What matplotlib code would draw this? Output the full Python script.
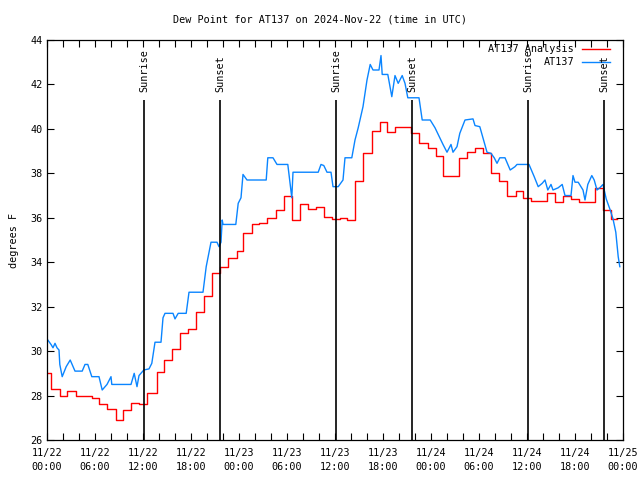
import numpy as np
import matplotlib
matplotlib.use("Agg")
import matplotlib.pyplot as plt

plt.rcParams['font.family'] = 'DejaVu Sans Mono'
plt.rcParams['font.size'] = 7.3

# hours since 2024-11-22 00:00 UTC
analysis_hours = [0.0, 0.5, 1.6, 2.5, 3.6, 5.6, 6.5, 7.5, 8.6, 9.5, 10.5, 11.5,
                  12.5, 13.75, 14.6, 15.6, 16.6, 17.6, 18.6, 19.6, 20.6, 21.6, 22.6, 23.75,
                  24.5, 25.6, 26.5, 27.5, 28.6, 29.6, 30.6, 31.6, 32.6, 33.6, 34.6, 35.6,
                  36.6, 37.5, 38.5, 39.5, 40.6, 41.6, 42.5, 43.5, 45.5, 46.5, 47.6, 48.6,
                  49.5, 51.5, 52.5, 53.5, 54.5, 55.5, 56.5, 57.5, 58.6, 59.5, 60.5, 62.5,
                  63.5, 64.5, 65.5, 66.5, 68.5, 69.5, 70.5, 71.25]
analysis_dewpt = [29.0, 28.3, 28.0, 28.2, 28.0, 27.9, 27.6, 27.4, 26.9, 27.35, 27.65, 27.6,
                  28.1, 29.05, 29.6, 30.1, 30.8, 31.0, 31.75, 32.5, 33.5, 33.8, 34.2, 34.5,
                  35.3, 35.7, 35.75, 36.0, 36.35, 37.0, 35.9, 36.6, 36.4, 36.5, 36.05, 35.95,
                  36.0, 35.9, 37.65, 38.9, 39.9, 40.3, 39.85, 40.1, 39.8, 39.35, 39.15, 38.8,
                  37.9, 38.7, 38.95, 39.15, 38.9, 38.0, 37.65, 37.0, 37.2, 36.9, 36.75, 37.1,
                  36.7, 37.0, 36.85, 36.7, 37.35, 36.35, 35.95, 35.95]

obs_hours = [0.0, 0.5, 0.75, 1.0, 1.25, 1.5, 1.6, 1.9, 2.4, 2.9, 3.5, 4.4, 4.75, 5.1,
             5.6, 6.5, 6.9, 7.5, 8.0, 8.1, 10.5, 10.9, 11.25, 11.5, 12.1, 12.75, 13.1,
             13.4, 13.5, 14.25, 14.5, 14.75, 15.75, 16.0, 16.4, 17.4, 17.75, 19.5, 19.9,
             20.5, 21.25, 21.5, 21.75, 21.9, 22.0, 23.6, 23.9, 24.25, 24.5, 25.0, 27.4,
             27.6, 28.25, 28.75, 30.1, 30.6, 30.75, 33.9, 34.25, 34.6, 35.0, 35.5, 35.75,
             36.4, 37.0, 37.25, 38.1, 38.5, 38.9, 39.5, 40.0, 40.4, 40.75, 41.5, 41.75,
             41.9, 42.6, 43.1, 43.5, 43.9, 44.4, 44.75, 45.1, 46.5, 46.9, 47.9, 48.5,
             49.1, 49.5, 50.0, 50.5, 50.75, 51.25, 51.6, 52.25, 53.25, 53.5, 54.1, 55.0,
             55.5, 55.9, 56.25, 56.6, 57.25, 57.9, 58.5, 58.75, 60.25, 60.9, 61.4, 61.9,
             62.25, 62.6, 63.0, 63.25, 63.9, 64.4, 64.75, 65.5, 65.75, 66.0, 66.4, 67.0,
             67.25, 67.6, 68.1, 68.4, 68.75, 69.1, 69.5, 69.9, 70.1, 70.4, 70.75, 71.1,
             71.4, 71.6]
obs_dewpt = [30.55, 30.3, 30.15, 30.35, 30.15, 30.05, 29.4, 28.85, 29.3, 29.6, 29.1, 29.1,
             29.4, 29.4, 28.85, 28.85, 28.25, 28.5, 28.85, 28.5, 28.5, 29.0, 28.4, 28.9,
             29.15, 29.2, 29.45, 30.15, 30.4, 30.4, 31.5, 31.7, 31.7, 31.45, 31.7, 31.7,
             32.65, 32.65, 33.8, 34.9, 34.9, 34.7, 34.9, 35.9, 35.7, 35.7, 36.65, 36.9,
             37.95, 37.7, 37.7, 38.7, 38.7, 38.4, 38.4, 36.9, 38.05, 38.05, 38.4, 38.35,
             38.05, 38.05, 37.4, 37.4, 37.7, 38.7, 38.7, 39.5, 40.05, 41.0, 42.2, 42.9,
             42.65, 42.65, 43.3, 42.45, 42.45, 41.45, 42.4, 42.05, 42.4, 42.05, 41.4, 41.4,
             40.4, 40.4, 40.05, 39.6, 39.3, 38.95, 39.3, 38.95, 39.2, 39.8, 40.4, 40.45,
             40.15, 40.1, 38.95, 38.9, 38.7, 38.45, 38.7, 38.7, 38.15, 38.3, 38.4, 38.4,
             37.85, 37.4, 37.55, 37.7, 37.25, 37.5, 37.25, 37.35, 37.5, 37.0, 37.0, 37.9,
             37.6, 37.6, 37.25, 36.8, 37.5, 37.9, 37.7, 37.25, 37.35, 37.5, 36.85, 36.65,
             36.35, 35.95, 35.35, 34.25, 33.8]

sun_hours = [12.1, 21.6, 36.1, 45.6, 60.1, 69.6]
sun_labels = ['Sunrise', 'Sunset', 'Sunrise', 'Sunset', 'Sunrise', 'Sunset']

tick_hours = np.arange(0, 73, 6)
tick_labels = ['11/22\n00:00', '11/22\n06:00', '11/22\n12:00', '11/22\n18:00',
               '11/23\n00:00', '11/23\n06:00', '11/23\n12:00', '11/23\n18:00',
               '11/24\n00:00', '11/24\n06:00', '11/24\n12:00', '11/24\n18:00',
               '11/25\n00:00']

fig = plt.figure(figsize=(6.4, 4.8), dpi=100)
ax = fig.add_axes([47/640, 40/480, 576/640, 400/480])

ax.plot(analysis_hours, analysis_dewpt, color='red', lw=1.0, drawstyle='steps-post')
ax.plot(obs_hours, obs_dewpt, color='#0a85ff', lw=1.0)

for h, lab in zip(sun_hours, sun_labels):
    ax.vlines(h, 26, 41.3, color='black', lw=1.2)
    ax.text(h + 0.1, 41.65, lab, rotation=90, ha='center', va='bottom')

# legend drawn by hand, text right-aligned like gnuplot
ax.text(0.915, 0.9775, 'AT137 Analysis', transform=ax.transAxes, ha='right', va='center')
ax.plot([0.929, 0.977], [0.9775, 0.9775], color='red', lw=1.0, transform=ax.transAxes)
ax.text(0.915, 0.945, 'AT137', transform=ax.transAxes, ha='right', va='center')
ax.plot([0.929, 0.977], [0.945, 0.945], color='#0a85ff', lw=1.0, transform=ax.transAxes)

ax.set_xlim(0, 72)
ax.set_ylim(26, 44)
ax.set_xticks(tick_hours)
ax.set_xticklabels(tick_labels, linespacing=1.45)
ax.set_xticks(np.arange(0, 73, 2), minor=True)
ax.set_yticks(np.arange(26, 45, 2))
ax.tick_params(direction='in', top=True, right=True, length=5, width=0.8, pad=6)
ax.tick_params(axis='x', which='minor', direction='in', top=True, length=5, width=0.8)
ax.tick_params(axis='y', pad=3)
for s in ax.spines.values():
    s.set_linewidth(0.9)

ax.set_ylabel('degrees F', labelpad=8)
fig.text(0.5, 1 - 19/480, 'Dew Point for AT137 on 2024-Nov-22 (time in UTC)',
         ha='center', va='center')

fig.savefig('out.png', dpi=100)
